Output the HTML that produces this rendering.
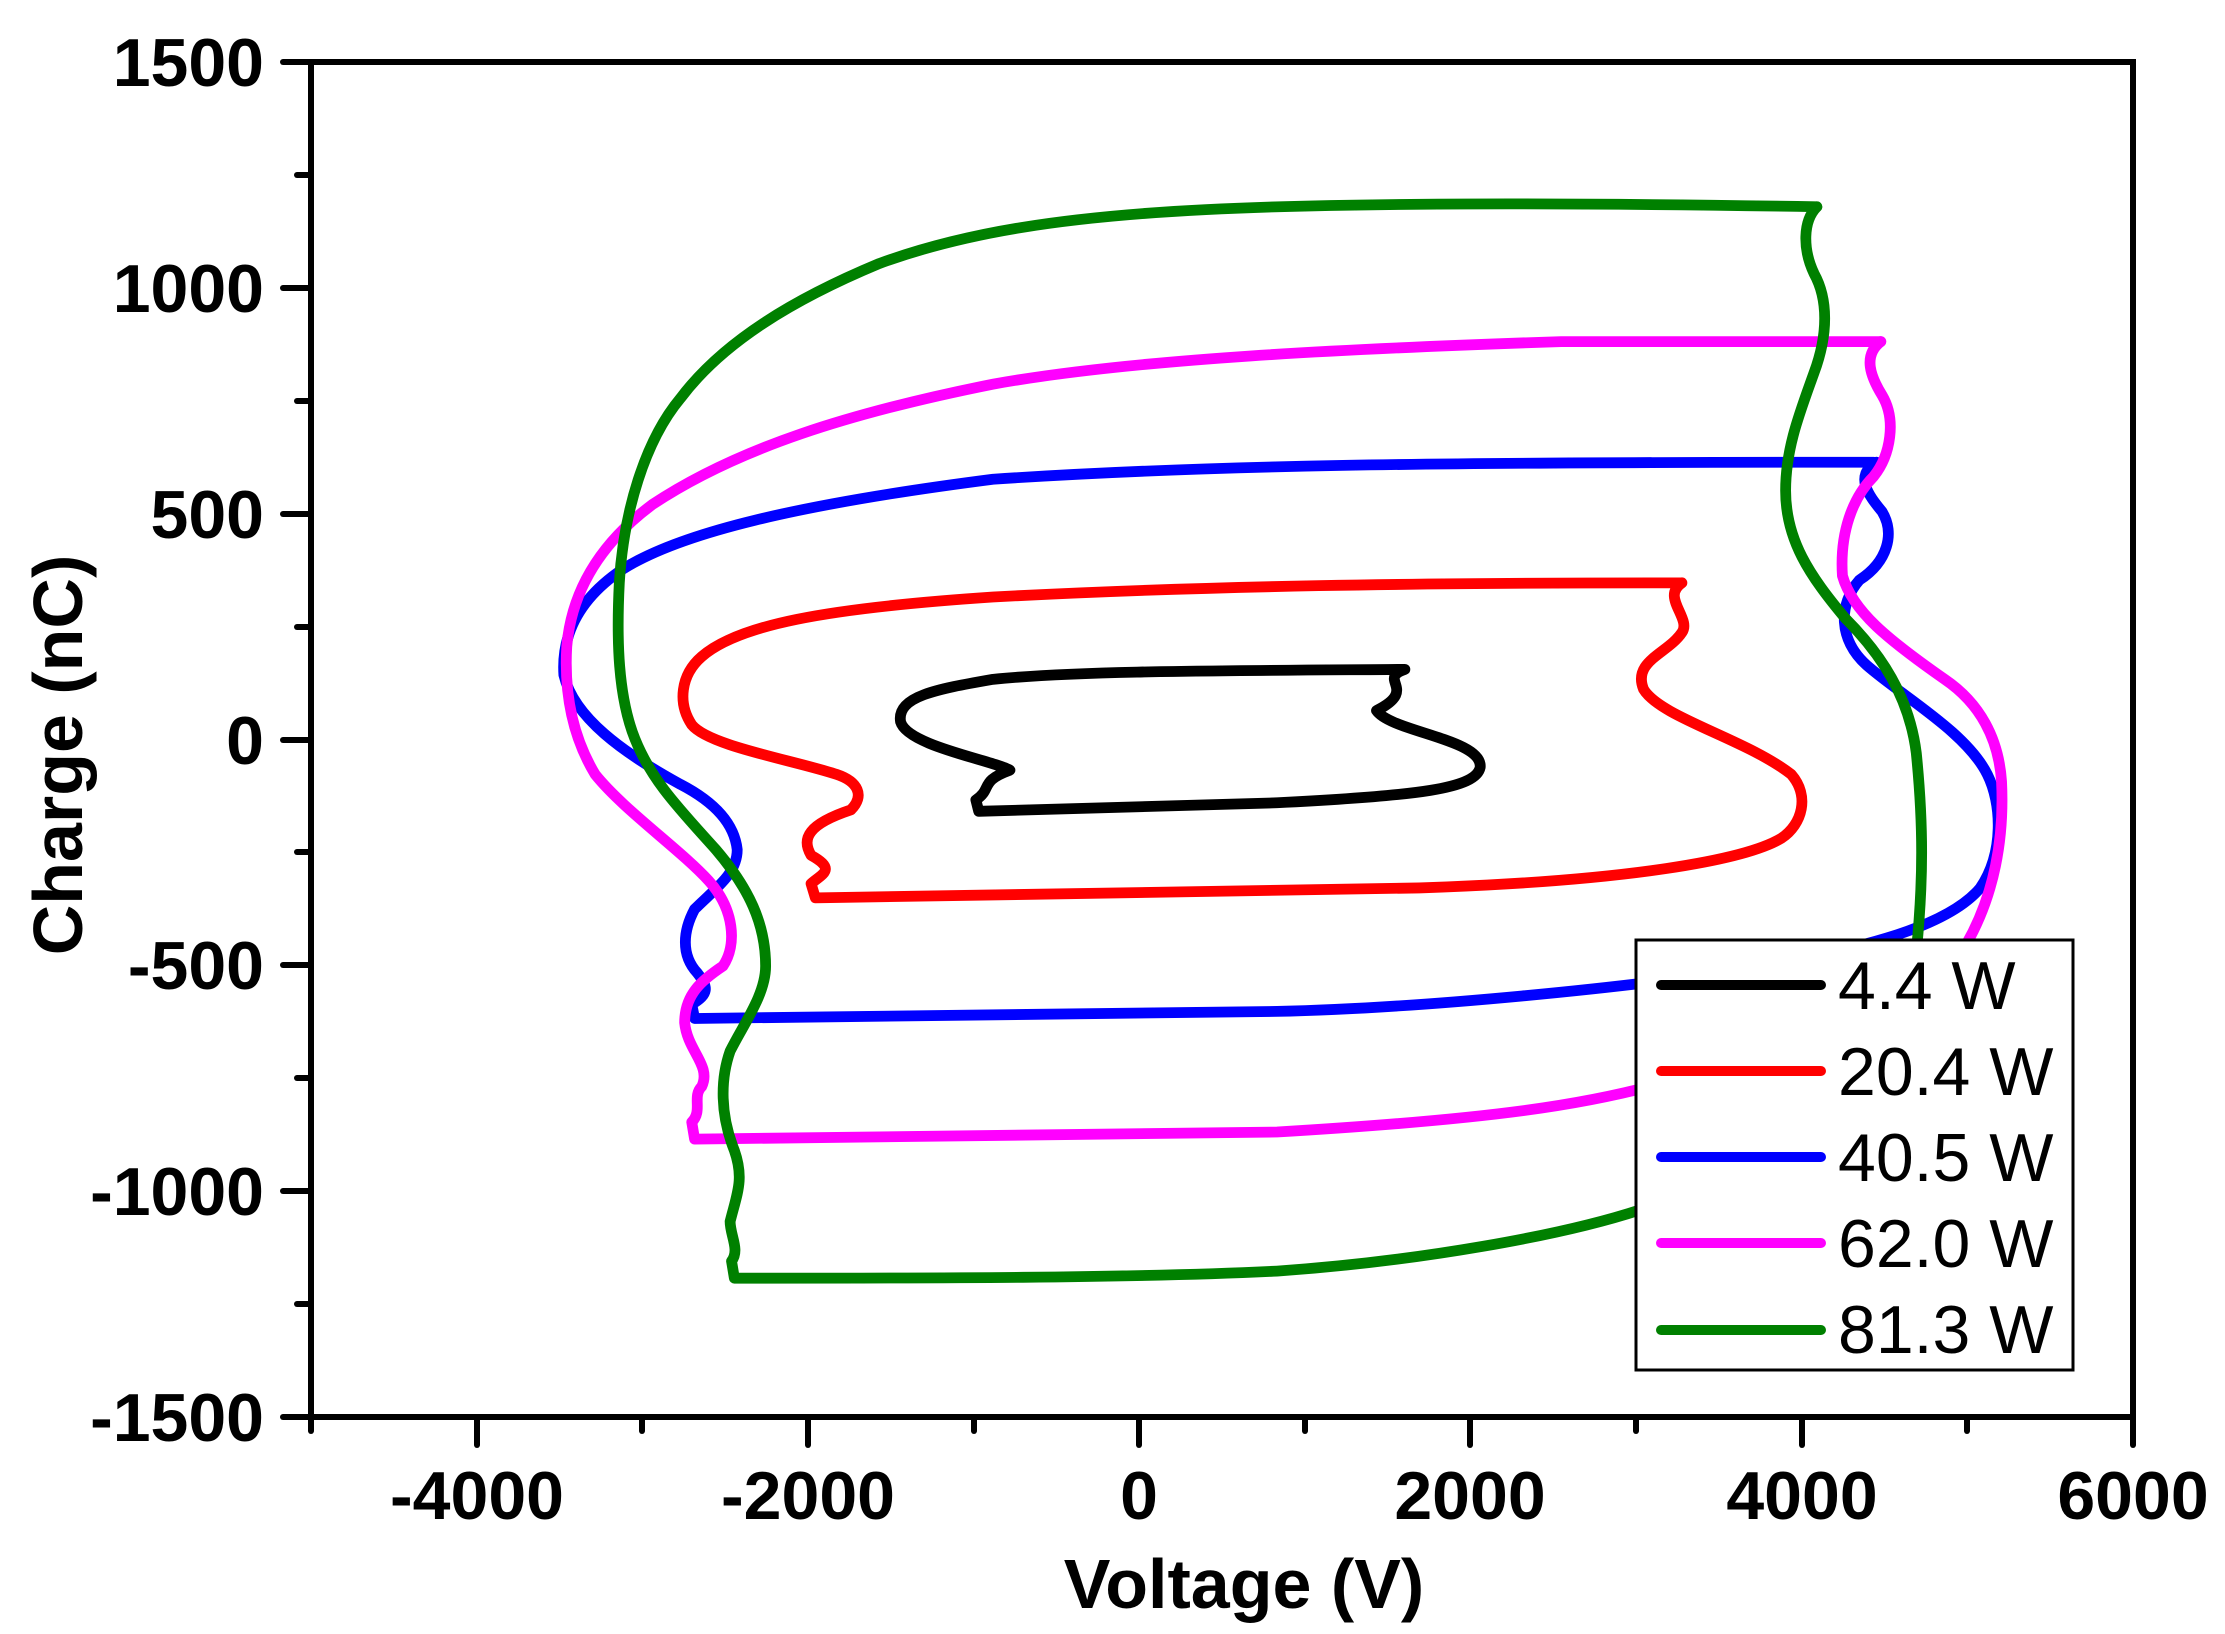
<!DOCTYPE html>
<html><head><meta charset="utf-8"><style>
html,body{margin:0;padding:0;background:#fff}
svg{display:block}
text{font-family:"Liberation Sans",Arial,sans-serif}
</style></head><body>
<svg width="2225" height="1634" viewBox="0 0 2225 1634" xmlns="http://www.w3.org/2000/svg">
<rect width="2225" height="1634" fill="#fff"/>
<g transform="matrix(1.4206 0 0 1.4191 -1.5 1)" fill="none" stroke-width="7.6" stroke-linejoin="round" stroke-linecap="round">
<path stroke="#000" d="M990,471 C970,478 1000,485 970,500 C980,515 1045,520 1043,540 C1040,555 1000,560 900,565 L690,571 L688,563 C700,555 690,550 712,542 C700,535 640,525 635,508 C632,490 660,485 700,478 C760,472 850,472 990,471 Z"/>
<path stroke="#f00" d="M1185,410 C1170,420 1192,435 1185,445 C1175,460 1150,465 1158,485 C1170,505 1230,520 1262,545 C1275,560 1270,580 1255,590 C1230,605 1150,620 1000,625 L575,632 L572,622 C580,615 590,612 572,602 C565,590 570,580 600,570 C610,560 605,550 590,545 C560,535 500,525 488,510 C478,495 480,475 495,462 C520,440 580,428 700,420 C850,412 1000,410 1185,410"/>
<path stroke="#00f" d="M1322,325 C1305,335 1318,350 1326,360 C1335,375 1330,395 1310,408 C1295,425 1295,450 1315,468 C1340,490 1385,515 1400,545 C1410,565 1412,600 1395,625 C1370,655 1300,670 1230,682 C1150,695 1000,710 900,712 L490,717 L488,707 C500,700 500,695 492,685 C480,672 482,655 490,640 C505,625 520,615 520,598 C518,580 505,565 480,552 C440,530 405,505 398,475 C396,445 410,420 440,400 C480,375 560,355 700,337 C850,327 1000,325 1320,325"/>
<path stroke="#f0f" d="M1325,240 C1312,250 1318,265 1326,278 C1336,295 1332,320 1320,335 C1305,350 1296,375 1298,405 C1305,430 1330,450 1370,478 C1395,495 1408,520 1410,550 C1412,590 1405,630 1385,665 L1370,690"/>
<path stroke="#f0f" d="M1180,760 C1120,778 1050,788 900,797 L490,802 L488,790 C496,782 488,772 495,765 C502,750 485,740 483,720 C483,700 495,690 510,680 C520,665 518,640 500,620 C480,598 440,570 420,545 C405,520 398,490 400,455 C403,420 420,385 460,355 C520,315 600,290 700,270 C800,252 950,245 1100,240 L1325,240"/>
<path stroke="#008000" d="M1280,145 C1270,155 1270,175 1278,192 C1288,210 1288,235 1278,262 C1268,290 1258,315 1258,345 C1258,380 1275,405 1300,435 C1325,460 1345,490 1350,530 C1355,580 1355,620 1350,670"/>
<path stroke="#008000" d="M1155,852 C1100,870 1000,888 900,895 C800,900 650,900 518,900 L516,888 C522,880 515,870 515,860 C520,840 525,830 518,810 C508,785 508,760 515,740 C525,720 540,700 540,680 C540,650 528,625 505,598 C480,570 460,550 448,520 C436,490 435,450 437,410 C440,360 455,310 480,280 C510,240 560,210 620,185 C680,163 750,152 850,147 C950,142 1100,142 1280,145"/>
</g>
<g stroke="#000" stroke-width="6" stroke-linecap="round" fill="none">
<rect x="311" y="62" width="1822" height="1355" stroke-linecap="butt"/>
<line x1="283" y1="62" x2="311" y2="62"/><line x1="283" y1="288" x2="311" y2="288"/><line x1="283" y1="514" x2="311" y2="514"/><line x1="283" y1="740" x2="311" y2="740"/><line x1="283" y1="965" x2="311" y2="965"/><line x1="283" y1="1191" x2="311" y2="1191"/><line x1="283" y1="1417" x2="311" y2="1417"/>
<line x1="297" y1="175" x2="311" y2="175"/><line x1="297" y1="401" x2="311" y2="401"/><line x1="297" y1="627" x2="311" y2="627"/><line x1="297" y1="852" x2="311" y2="852"/><line x1="297" y1="1078" x2="311" y2="1078"/><line x1="297" y1="1304" x2="311" y2="1304"/>
<line x1="477" y1="1417" x2="477" y2="1445"/><line x1="808" y1="1417" x2="808" y2="1445"/><line x1="1139" y1="1417" x2="1139" y2="1445"/><line x1="1470" y1="1417" x2="1470" y2="1445"/><line x1="1802" y1="1417" x2="1802" y2="1445"/><line x1="2133" y1="1417" x2="2133" y2="1445"/>
<line x1="311" y1="1417" x2="311" y2="1431"/><line x1="642" y1="1417" x2="642" y2="1431"/><line x1="974" y1="1417" x2="974" y2="1431"/><line x1="1305" y1="1417" x2="1305" y2="1431"/><line x1="1636" y1="1417" x2="1636" y2="1431"/><line x1="1967" y1="1417" x2="1967" y2="1431"/>
</g>
<g font-size="68" font-weight="bold" fill="#000" text-anchor="end">
<text x="264" y="86">1500</text><text x="264" y="312">1000</text><text x="264" y="538">500</text><text x="264" y="764">0</text><text x="264" y="989">-500</text><text x="264" y="1215">-1000</text><text x="264" y="1441">-1500</text>
</g>
<g font-size="68" font-weight="bold" fill="#000" text-anchor="middle">
<text x="477" y="1519">-4000</text><text x="808" y="1519">-2000</text><text x="1139" y="1519">0</text><text x="1470" y="1519">2000</text><text x="1802" y="1519">4000</text><text x="2133" y="1519">6000</text>
</g>
<text x="1244" y="1608" font-size="70" font-weight="bold" text-anchor="middle">Voltage (V)</text>
<text transform="translate(82,755) rotate(-90)" font-size="70" font-weight="bold" text-anchor="middle">Charge (nC)</text>
<rect x="1636" y="940" width="437" height="430" fill="#fff" stroke="#000" stroke-width="3"/>
<g stroke-width="10" stroke-linecap="round">
<line x1="1661" y1="985" x2="1821" y2="985" stroke="#000"/>
<line x1="1661" y1="1071" x2="1821" y2="1071" stroke="#f00"/>
<line x1="1661" y1="1157" x2="1821" y2="1157" stroke="#00f"/>
<line x1="1661" y1="1243" x2="1821" y2="1243" stroke="#f0f"/>
<line x1="1661" y1="1330" x2="1821" y2="1330" stroke="#008000"/>
</g>
<g font-size="68" fill="#000">
<text x="1838" y="1009">4.4 W</text><text x="1838" y="1095">20.4 W</text><text x="1838" y="1181">40.5 W</text><text x="1838" y="1267">62.0 W</text><text x="1838" y="1353">81.3 W</text>
</g>
</svg>
</body></html>
